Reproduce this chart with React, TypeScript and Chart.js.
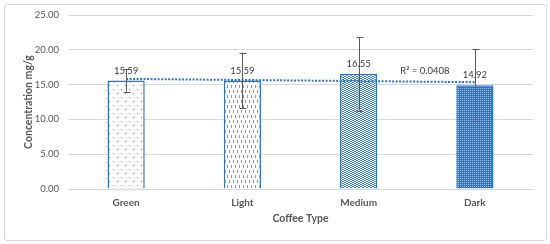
import React, { useEffect, useRef } from "react";
import { Chart, registerables } from "chart.js";

Chart.register(...registerables);

const categories = ["Green", "Light", "Medium", "Dark"];
const concentrations = [15.59, 15.59, 16.55, 14.92];
const errors = [1.6, 4.0, 5.3, 5.2];
const valueLabels = ["15.59", "15.59", "16.55", "14.92"];
const trendEnds = [15.82, 15.35];
const rSquaredText = "R² = 0.0408";
const yTicks = [0, 5, 10, 15, 20, 25];

const BLUE = "#2E74C9";
const FONT = "Lato, 'Liberation Sans', sans-serif";

function makePattern(kind: string): CanvasPattern | string {
  const c = document.createElement("canvas");
  const ctx = c.getContext("2d")!;
  if (kind === "green") {
    c.width = 8; c.height = 8;
    ctx.fillStyle = "#ffffff"; ctx.fillRect(0, 0, 8, 8);
    ctx.fillStyle = "#8a8f99";
    ctx.fillRect(1, 1, 1, 1);
    ctx.fillRect(5, 5, 1, 1);
  } else if (kind === "light") {
    c.width = 4; c.height = 10;
    ctx.fillStyle = "#ffffff"; ctx.fillRect(0, 0, 4, 10);
    ctx.fillStyle = "#6aa0e0";
    ctx.fillRect(1, 0, 1, 3);
    ctx.fillRect(3, 5, 1, 3);
  } else if (kind === "medium") {
    c.width = 4; c.height = 4;
    ctx.fillStyle = "#ffffff"; ctx.fillRect(0, 0, 4, 4);
    ctx.fillStyle = "#3a7fd0";
    for (let y = 0; y < 4; y++) {
      for (let x = 0; x < 4; x++) {
        if ((x + 2 * y) % 4 < 2) ctx.fillRect(x, y, 1, 1);
      }
    }
  } else {
    c.width = 2; c.height = 2;
    ctx.fillStyle = BLUE; ctx.fillRect(0, 0, 2, 2);
    ctx.fillStyle = "#9cc0ee";
    ctx.fillRect(0, 0, 1, 1);
  }
  return ctx.createPattern(c, "repeat") || BLUE;
}

export default function App() {
  const ref = useRef<HTMLCanvasElement | null>(null);

  useEffect(() => {
    if (!ref.current) return;
    const fills = [makePattern("green"), makePattern("light"), makePattern("medium"), makePattern("dark")];

    const overlay = {
      id: "overlay",
      afterDatasetsDraw(chart: any) {
        const ctx = chart.ctx;
        const meta = chart.getDatasetMeta(1);
        const ys = chart.scales.y;
        const xs = chart.scales.x;
        ctx.save();
        ctx.font = `9.5px ${FONT}`;
        ctx.fillStyle = "#404040";
        ctx.textAlign = "center";
        ctx.textBaseline = "middle";
        meta.data.forEach((bar: any, i: number) => {
          ctx.fillText(valueLabels[i], bar.x, bar.y - 10);
        });
        const rx = xs.getPixelForValue(2.57);
        const ry = ys.getPixelForValue(16.9);
        ctx.fillText(rSquaredText, rx, ry);
        ctx.strokeStyle = "#5a5a5a";
        ctx.lineWidth = 1;
        meta.data.forEach((bar: any, i: number) => {
          const x = Math.round(bar.x) + 0.5;
          const top = ys.getPixelForValue(concentrations[i] + errors[i]);
          const bot = ys.getPixelForValue(concentrations[i] - errors[i]);
          ctx.beginPath();
          ctx.moveTo(x, top);
          ctx.lineTo(x, bot);
          ctx.moveTo(x - 3, Math.round(top) + 0.5);
          ctx.lineTo(x + 4, Math.round(top) + 0.5);
          ctx.moveTo(x - 3, Math.round(bot) + 0.5);
          ctx.lineTo(x + 4, Math.round(bot) + 0.5);
          ctx.stroke();
        });
        ctx.restore();
      },
    };

    const chart = new Chart(ref.current, {
      type: "bar",
      data: {
        labels: categories,
        datasets: [
          {
            type: "line",
            data: [
              { x: categories[0], y: trendEnds[0] },
              { x: categories[3], y: trendEnds[1] },
            ] as any,
            borderColor: "#2E74C9",
            borderWidth: 2,
            borderDash: [2, 1.5],
            pointRadius: 0,
            fill: false,
            order: 0,
          } as any,
          {
            type: "bar",
            data: concentrations,
            backgroundColor: fills as any,
            borderColor: "#2E74C9",
            borderWidth: 1.5,
            barPercentage: 0.64,
            categoryPercentage: 0.5,
            order: 1,
          },
        ],
      },
      options: {
        animation: false,
        responsive: false,
        maintainAspectRatio: false,
        layout: { padding: { left: 0, right: 17, top: 15, bottom: 19 } },
        plugins: { legend: { display: false }, tooltip: { enabled: false } },
        scales: {
          x: {
            afterFit(axis: any) {
              axis.height = 36;
            },
            grid: { display: false, drawTicks: false },
            border: { display: true, color: "#d9d9d9" },
            ticks: { color: "#595959", font: { family: FONT, size: 10, weight: "bold" }, padding: 8 },
            title: {
              display: true,
              text: "Coffee Type",
              color: "#595959",
              font: { family: FONT, size: 10.5, weight: "bold" },
              padding: { top: 1, bottom: 0 },
            },
          },
          y: {
            min: 0,
            max: 25,
            afterBuildTicks(axis: any) {
              axis.ticks = yTicks.map((v) => ({ value: v }));
            },
            afterFit(axis: any) {
              axis.width = 68;
            },
            grid: { color: "#d9d9d9", drawTicks: false },
            border: { display: false },
            ticks: {
              color: "#595959",
              font: { family: FONT, size: 9.5 },
              padding: 9,
              callback: (v: any) => Number(v).toFixed(2),
            },
            title: {
              display: true,
              text: "Concentration mg/g",
              color: "#595959",
              font: { family: FONT, size: 10.5, weight: "bold" },
              padding: { top: 22, bottom: 0 },
            },
          },
        },
      },
      plugins: [overlay],
    });
    return () => chart.destroy();
  }, []);

  return (
    <div style={{ position: "fixed", left: 0, top: 0, width: 550, height: 244, background: "#fff" }}>
      <div
        style={{
          position: "absolute",
          left: 4,
          top: 4,
          width: 541,
          height: 235,
          border: "1px solid #d9d9d9",
          borderRadius: 3,
        }}
      />
      <canvas ref={ref} width={550} height={244} style={{ position: "absolute", left: 0, top: 0 }} />
    </div>
  );
}
